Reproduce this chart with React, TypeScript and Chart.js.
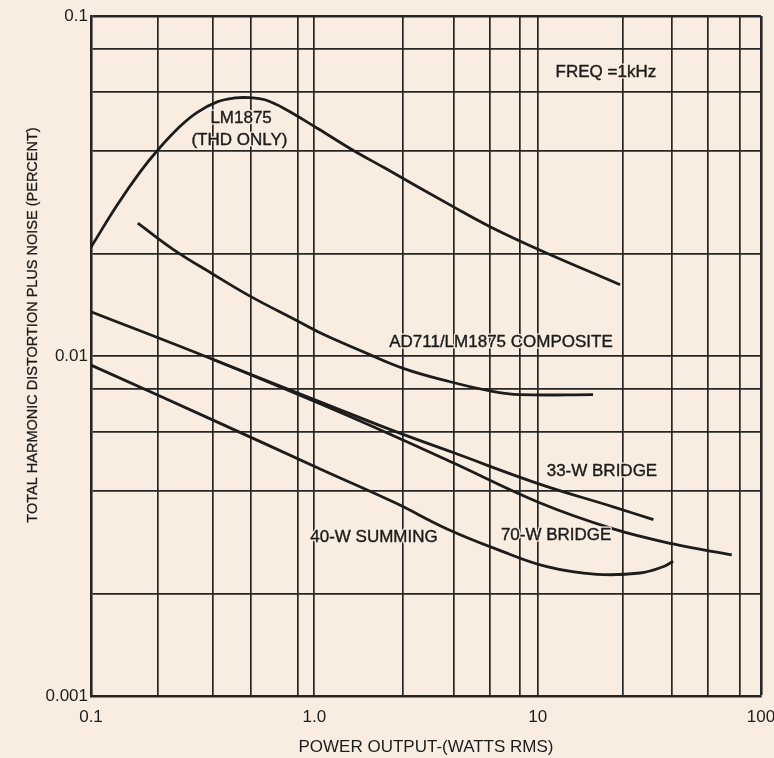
import { useEffect, useRef } from "react";
import { Chart, registerables } from "chart.js";

Chart.register(...registerables);

// ---- data ----
const lm1875X = [0.1, 0.131, 0.166, 0.2, 0.25, 0.298, 0.367, 0.441, 0.515, 0.601, 0.739, 1.04, 1.47, 2.07, 4.18, 6.12, 10.2, 23.4];
const lm1875Y = [0.0209, 0.0278, 0.0348, 0.0405, 0.0473, 0.052, 0.0559, 0.0574, 0.0575, 0.0567, 0.0533, 0.0466, 0.0405, 0.0357, 0.0275, 0.024, 0.0205, 0.0162];

const compositeX = [0.162, 0.233, 0.352, 0.515, 0.837, 1.09, 1.65, 2.5, 4.05, 6.12, 8.33, 17.7];
const compositeY = [0.0246, 0.0206, 0.0174, 0.015, 0.0127, 0.0116, 0.0103, 0.0092, 0.0084, 0.0079, 0.0077, 0.0077];

const bridge70X = [0.1, 0.348, 1.08, 2.3, 4.18, 10.2, 21.8, 40.4, 74];
const bridge70Y = [0.0135, 0.0098, 0.0072, 0.0058, 0.00485, 0.0037, 0.0031, 0.0028, 0.0026];

const bridge33X = [0.348, 1.08, 2.3, 4.18, 10.2, 21.8, 33];
const bridge33Y = [0.0098, 0.0073, 0.006, 0.0052, 0.0042, 0.0036, 0.0033];

const summing40X = [0.1, 0.348, 1.08, 2.3, 3.93, 6.58, 11, 18.4, 28.7, 36.4, 40.4];
const summing40Y = [0.0094, 0.0065, 0.00463, 0.0037, 0.0031, 0.0027, 0.0024, 0.00228, 0.0023, 0.0024, 0.00249];

// grid / tick values
const xGridValues = [0.1, 0.2, 0.35, 0.52, 0.84, 1, 2.5, 4.2, 6.1, 8.3, 10, 24, 40, 58, 80, 100];
const yGridValues = [0.001, 0.002, 0.004, 0.006, 0.008, 0.01, 0.02, 0.04, 0.06, 0.08, 0.1];
const xTickValues = [0.1, 1, 10, 100];
const xTickLabels = ["0.1", "1.0", "10", "100"];
const yTickValues = [0.001, 0.01, 0.1];
const yTickLabels = ["0.001", "0.01", "0.1"];

// curve annotations (text and anchor in data units)
const noteTexts = ["LM1875", "(THD ONLY)", "FREQ =1kHz", "AD711/LM1875 COMPOSITE", "33-W BRIDGE", "70-W BRIDGE", "40-W SUMMING"];
const noteX = [0.47, 0.462, 20.2, 6.85, 19.4, 12.1, 1.85];
const noteY = [0.0501, 0.0432, 0.0684, 0.011, 0.00459, 0.00297, 0.00293];

const xTitle = "POWER OUTPUT-(WATTS RMS)";
const yTitle = "TOTAL HARMONIC DISTORTION PLUS NOISE (PERCENT)";

// ---- styles ----
const BG = "#f9ede1";
const INK = "#1c1c1c";
const GRID = "#262626";
const FONT = "'Liberation Sans', Arial, sans-serif";

const same = (a: number, b: number) => Math.abs(Math.log10(a) - Math.log10(b)) < 1e-6;

const pts = (xs: number[], ys: number[]) => xs.map((x, i) => ({ x, y: ys[i] }));

const annotationPlugin = {
  id: "curveNotes",
  afterDatasetsDraw(chart: any) {
    const { ctx, chartArea } = chart;
    const xs = chart.scales.x;
    const ys = chart.scales.y;
    ctx.save();
    ctx.font = `17px ${FONT}`;
    ctx.textAlign = "center";
    ctx.textBaseline = "middle";
    ctx.lineJoin = "round";
    noteTexts.forEach((t, i) => {
      const px = xs.getPixelForValue(noteX[i]);
      const py = ys.getPixelForValue(noteY[i]);
      ctx.lineWidth = 3;
      ctx.strokeStyle = BG;
      ctx.strokeText(t, px, py);
      ctx.fillStyle = INK;
      ctx.fillText(t, px, py);
      ctx.lineWidth = 0.4;
      ctx.strokeStyle = INK;
      ctx.strokeText(t, px, py);
    });
    ctx.restore();

    ctx.save();
    ctx.translate(chartArea.left - 58, chartArea.top + 309);
    ctx.rotate(-Math.PI / 2);
    ctx.font = `14.5px ${FONT}`;
    ctx.textAlign = "center";
    ctx.textBaseline = "middle";
    ctx.fillStyle = INK;
    ctx.fillText(yTitle, 0, 0);
    ctx.lineWidth = 0.3;
    ctx.strokeStyle = INK;
    ctx.strokeText(yTitle, 0, 0);
    ctx.restore();
  },
};

export default function App() {
  const ref = useRef<HTMLCanvasElement | null>(null);

  useEffect(() => {
    if (!ref.current) return;
    const line = (data: { x: number; y: number }[]) => ({
      data,
      borderColor: INK,
      borderWidth: 2.8,
      pointRadius: 0,
      fill: false,
      tension: 0.4,
    });
    const chart = new Chart(ref.current, {
      type: "line",
      data: {
        datasets: [
          line(pts(lm1875X, lm1875Y)),
          line(pts(compositeX, compositeY)),
          line(pts(bridge70X, bridge70Y)),
          line(pts(bridge33X, bridge33Y)),
          line(pts(summing40X, summing40Y)),
        ] as any,
      },
      options: {
        responsive: false,
        animation: false,
        events: [],
        layout: { padding: { top: 16, right: 13, left: 0, bottom: 0 } },
        plugins: {
          legend: { display: false },
          tooltip: { enabled: false },
        },
        scales: {
          x: {
            type: "logarithmic",
            min: 0.1,
            max: 100,
            afterBuildTicks: (s: any) => {
              s.ticks = xGridValues.map((v) => ({ value: v }));
            },
            afterFit: (s: any) => {
              s.height = 62;
              s.paddingLeft = 0;
              s.paddingRight = 0;
            },
            grid: {
              color: GRID,
              lineWidth: (c: any) => (c.tick && same(c.tick.value, 100) ? 2.6 : 1.7),
              drawTicks: false,
            },
            border: { display: true, color: GRID, width: 2.6 },
            ticks: {
              autoSkip: false,
              maxRotation: 0,
              minRotation: 0,
              padding: 11,
              color: INK,
              font: { family: FONT, size: 17 },
              callback: (v: any) => {
                const i = xTickValues.findIndex((t) => same(t, Number(v)));
                return i >= 0 ? xTickLabels[i] : "";
              },
            },
            title: {
              display: true,
              text: xTitle,
              color: INK,
              font: { family: FONT, size: 17 },
              padding: { top: 0, bottom: 0 },
            },
          },
          y: {
            type: "logarithmic",
            min: 0.001,
            max: 0.1,
            afterBuildTicks: (s: any) => {
              s.ticks = yGridValues.map((v) => ({ value: v }));
            },
            afterFit: (s: any) => {
              s.width = 91;
              s.paddingTop = 0;
              s.paddingBottom = 0;
            },
            grid: {
              color: GRID,
              lineWidth: (c: any) => (c.tick && same(c.tick.value, 0.1) ? 2.6 : 1.7),
              drawTicks: false,
            },
            border: { display: true, color: GRID, width: 2.6 },
            ticks: {
              autoSkip: false,
              padding: 3,
              color: INK,
              font: { family: FONT, size: 17 },
              callback: (v: any) => {
                const i = yTickValues.findIndex((t) => same(t, Number(v)));
                return i >= 0 ? yTickLabels[i] : "";
              },
            },
          },
        },
      },
      plugins: [annotationPlugin],
    });
    return () => chart.destroy();
  }, []);

  return (
    <div style={{ position: "fixed", left: 0, top: 0, width: 774, height: 758, background: BG }}>
      <canvas ref={ref} width={774} height={758} style={{ display: "block" }} />
    </div>
  );
}
